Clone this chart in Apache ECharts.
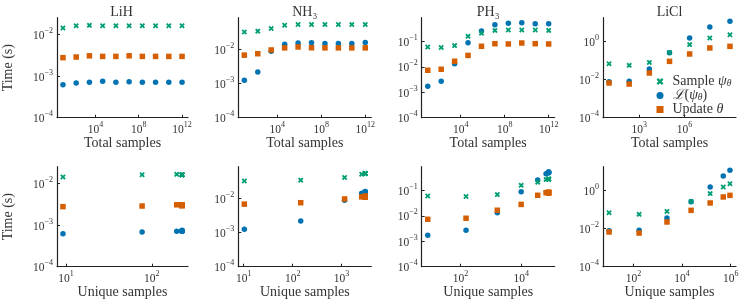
<!DOCTYPE html>
<html><head><meta charset="utf-8">
<script src="https://cdn.jsdelivr.net/npm/echarts@6/dist/echarts.min.js"></script>
<style>html,body{margin:0;padding:0;background:#fff}#c{width:747px;height:304px}</style>
</head><body><div id="c"></div>
<script>
// ---------- data ----------
const molecules = ['LiH', 'NH₃', 'PH₃', 'LiCl'];
const seriesNames = ['Sample ψθ', 'ℒ(ψθ)', 'Update θ'];

const totalSamples = [1e1, 1.67e2, 2.78e3, 4.64e4, 7.74e5, 1.29e7, 2.15e8, 3.59e9, 5.99e10, 1e12];
const totalSamplesLiCl = [1e1, 2.15e2, 4.64e3, 1e5, 2.15e6, 4.64e7, 1e9];

const uniqueLiH = [9.2, 77, 195, 225, 225, 225, 225, 225, 225, 225];
const uniqueNH3 = [10.3, 146, 1150, 2570, 3040, 3040, 3040, 3040, 3040, 3040];
const uniquePH3 = [8.2, 151, 1630, 10000, 35200, 66500, 81000, 81000, 81000, 81000];
const uniqueLiCl = [10, 172, 2400, 23500, 143000, 494000, 930000];

const sampleLiH = [0.0145, 0.0165, 0.0168, 0.0165, 0.0165, 0.0165, 0.0165, 0.0165, 0.0165, 0.0165];
const lossLiH   = [0.00062, 0.00069, 0.00072, 0.00076, 0.00072, 0.00074, 0.00072, 0.00072, 0.00072, 0.00072];
const updateLiH = [0.0028, 0.0029, 0.0031, 0.0030, 0.0030, 0.0031, 0.0030, 0.0030, 0.0030, 0.0030];

const sampleNH3 = [0.033, 0.035, 0.042, 0.052, 0.055, 0.055, 0.055, 0.055, 0.055, 0.055];
const lossNH3   = [0.00127, 0.0022, 0.0090, 0.0145, 0.0158, 0.0160, 0.0152, 0.0152, 0.0152, 0.0162];
const updateNH3 = [0.0069, 0.0076, 0.0098, 0.0113, 0.0120, 0.0114, 0.0113, 0.0113, 0.0113, 0.0113];

const samplePH3 = [0.060, 0.057, 0.068, 0.157, 0.21, 0.27, 0.28, 0.28, 0.28, 0.27];
const lossPH3   = [0.00172, 0.0027, 0.0133, 0.089, 0.254, 0.45, 0.52, 0.54, 0.49, 0.49];
const updatePH3 = [0.0073, 0.0080, 0.0165, 0.028, 0.064, 0.081, 0.079, 0.086, 0.081, 0.079];

const sampleLiCl = [0.0695, 0.0566, 0.081, 0.27, 0.70, 1.57, 2.33];
const lossLiCl   = [0.0078, 0.0082, 0.0366, 0.26, 1.57, 5.9, 11.7];
const updateLiCl = [0.0067, 0.0059, 0.0225, 0.092, 0.225, 0.466, 0.566];

// tick values
const yTicksLiH = [1e-4, 1e-3, 1e-2];
const yTicksNH3 = [1e-4, 1e-3, 1e-2];
const yTicksPH3 = [1e-4, 1e-3, 1e-2, 1e-1];
const yTicksLiCl = [1e-4, 1e-2, 1];
const xTicksTotal = [1e4, 1e8, 1e12];
const xTicksTotalLiCl = [1e3, 1e6];
const xTicksUniqueLiH = [10, 100];
const xTicksUniqueNH3 = [10, 100, 1000];
const xTicksUniquePH3 = [100, 1e4];
const xTicksUniqueLiCl = [100, 1e4, 1e6];

// ---------- layout / style ----------
const yMin = 1e-4;
const yTops = [0.0257, 0.087, 0.85, 18.2];
const gridLefts = [55, 238.3, 421.7, 603];
const gridWidth = 133;
const rowTops = [17.7, 166.7];
const gridHeight = 100;
const serif = '"Liberation Serif", "DejaVu Serif", serif';
const textColor = '#333';
const axisColor = '#222';
const colors = { sample: '#029e73', loss: '#0173b2', update: '#d55e00' };
const xSymbol = 'path://M0,1.4L1.4,0L3,1.6L4.6,0L6,1.4L4.4,3L6,4.6L4.6,6L3,4.4L1.4,6L0,4.6L1.6,3Z';

const panels = [
  { total: totalSamples, unique: uniqueLiH, s: sampleLiH, l: lossLiH, u: updateLiH, yt: yTicksLiH, xt: xTicksTotal, xu: xTicksUniqueLiH },
  { total: totalSamples, unique: uniqueNH3, s: sampleNH3, l: lossNH3, u: updateNH3, yt: yTicksNH3, xt: xTicksTotal, xu: xTicksUniqueNH3 },
  { total: totalSamples, unique: uniquePH3, s: samplePH3, l: lossPH3, u: updatePH3, yt: yTicksPH3, xt: xTicksTotal, xu: xTicksUniquePH3 },
  { total: totalSamplesLiCl, unique: uniqueLiCl, s: sampleLiCl, l: lossLiCl, u: updateLiCl, yt: yTicksLiCl, xt: xTicksTotalLiCl, xu: xTicksUniqueLiCl }
];

const tickFmt = v => {
  const e = Math.round(Math.log10(v));
  return '{b|10}{e|' + (e < 0 ? '−' + (-e) : String(e)) + '}';
};
const tickRich = {
  b: { fontSize: 11.5, fontFamily: serif, color: textColor, lineHeight: 15, verticalAlign: 'bottom' },
  e: { fontSize: 8, fontFamily: serif, color: textColor, lineHeight: 7, verticalAlign: 'top' }
};

function logPad(arr) {
  const lg = arr.map(v => Math.log10(v));
  const lo = Math.min(...lg), hi = Math.max(...lg);
  const p = 0.05 * (hi - lo);
  return [Math.pow(10, lo - p), Math.pow(10, hi + p)];
}

const grids = [], xAxes = [], yAxes = [], series = [];
for (let r = 0; r < 2; r++) {
  for (let c = 0; c < 4; c++) {
    const idx = r * 4 + c;
    const P = panels[c];
    const xs = r === 0 ? P.total : P.unique;
    const xt = r === 0 ? P.xt : P.xu;
    const ext = logPad(xs);
    grids.push({ left: gridLefts[c], top: rowTops[r], width: gridWidth, height: gridHeight });
    xAxes.push({
      type: 'log', gridIndex: idx, min: ext[0], max: ext[1],
      axisLine: { show: true, onZero: false, lineStyle: { color: axisColor, width: 1.2 } },
      axisTick: { show: true, inside: true, length: 3, customValues: xt, lineStyle: { color: axisColor, width: 1 } },
      axisLabel: { customValues: xt, formatter: tickFmt, rich: tickRich, margin: 3 },
      splitLine: { show: false }, minorTick: { show: false },
      name: r === 0 ? 'Total samples' : 'Unique samples',
      nameLocation: 'middle', nameGap: r === 0 ? 16 : 18,
      nameTextStyle: { fontFamily: serif, fontSize: 14, color: textColor }
    });
    yAxes.push({
      type: 'log', gridIndex: idx, min: yMin, max: yTops[c],
      axisLine: { show: true, onZero: false, lineStyle: { color: axisColor, width: 1.2 } },
      axisTick: { show: true, inside: true, length: 3, customValues: P.yt, lineStyle: { color: axisColor, width: 1 } },
      axisLabel: { customValues: P.yt, formatter: tickFmt, rich: tickRich, margin: 4 },
      splitLine: { show: false }, minorTick: { show: false },
      name: c === 0 ? 'Time (s)' : '',
      nameLocation: 'middle', nameGap: 42,
      nameTextStyle: { fontFamily: serif, fontSize: 14, color: textColor }
    });
    const mk = (name, ys, color, symbol, size, z) => ({
      type: 'scatter', name, xAxisIndex: idx, yAxisIndex: idx,
      data: xs.map((x, i) => [x, ys[i]]),
      symbol, symbolSize: size, itemStyle: { color, opacity: 1 }, z,
      emphasis: { disabled: true }
    });
    series.push(mk(seriesNames[1], P.l, colors.loss, 'circle', 5.5, 2));
    series.push(mk(seriesNames[2], P.u, colors.update, 'rect', 5.5, 3));
    series.push(mk(seriesNames[0], P.s, colors.sample, xSymbol, 5.5, 4));
  }
}

const titles = molecules.map((m, c) => ({
  type: 'text', x: gridLefts[c] + gridWidth / 2, y: 12,
  style: { text: m, font: '14px ' + serif, fill: textColor, textAlign: 'center', textVerticalAlign: 'middle' }
}));

const legendFmt = {
  'Sample ψθ': 'Sample {i|ψ}{s|θ}',
  'ℒ(ψθ)': '{i|ℒ}({i|ψ}{s|θ})',
  'Update θ': 'Update {i|θ}'
};

const chart = echarts.init(document.getElementById('c'), null, { renderer: 'canvas' });
chart.setOption({
  animation: false,
  backgroundColor: '#fff',
  grid: grids, xAxis: xAxes, yAxis: yAxes, series,
  graphic: titles,
  legend: {
    orient: 'vertical', left: 656.5, top: 74.5, padding: 0,
    itemWidth: 7, itemHeight: 7, itemGap: 0,
    data: [seriesNames[0], seriesNames[1], seriesNames[2]],
    formatter: n => legendFmt[n],
    selectedMode: false,
    textStyle: {
      fontFamily: serif, fontSize: 14, color: textColor, lineHeight: 13.3, padding: [0, 0, 0, 4],
      rich: {
        i: { fontFamily: serif, fontSize: 14, fontStyle: 'italic', color: textColor, lineHeight: 13.3 },
        s: { fontFamily: serif, fontSize: 9.5, fontStyle: 'italic', color: textColor, lineHeight: 9, verticalAlign: 'bottom' }
      }
    }
  }
});
</script></body></html>
